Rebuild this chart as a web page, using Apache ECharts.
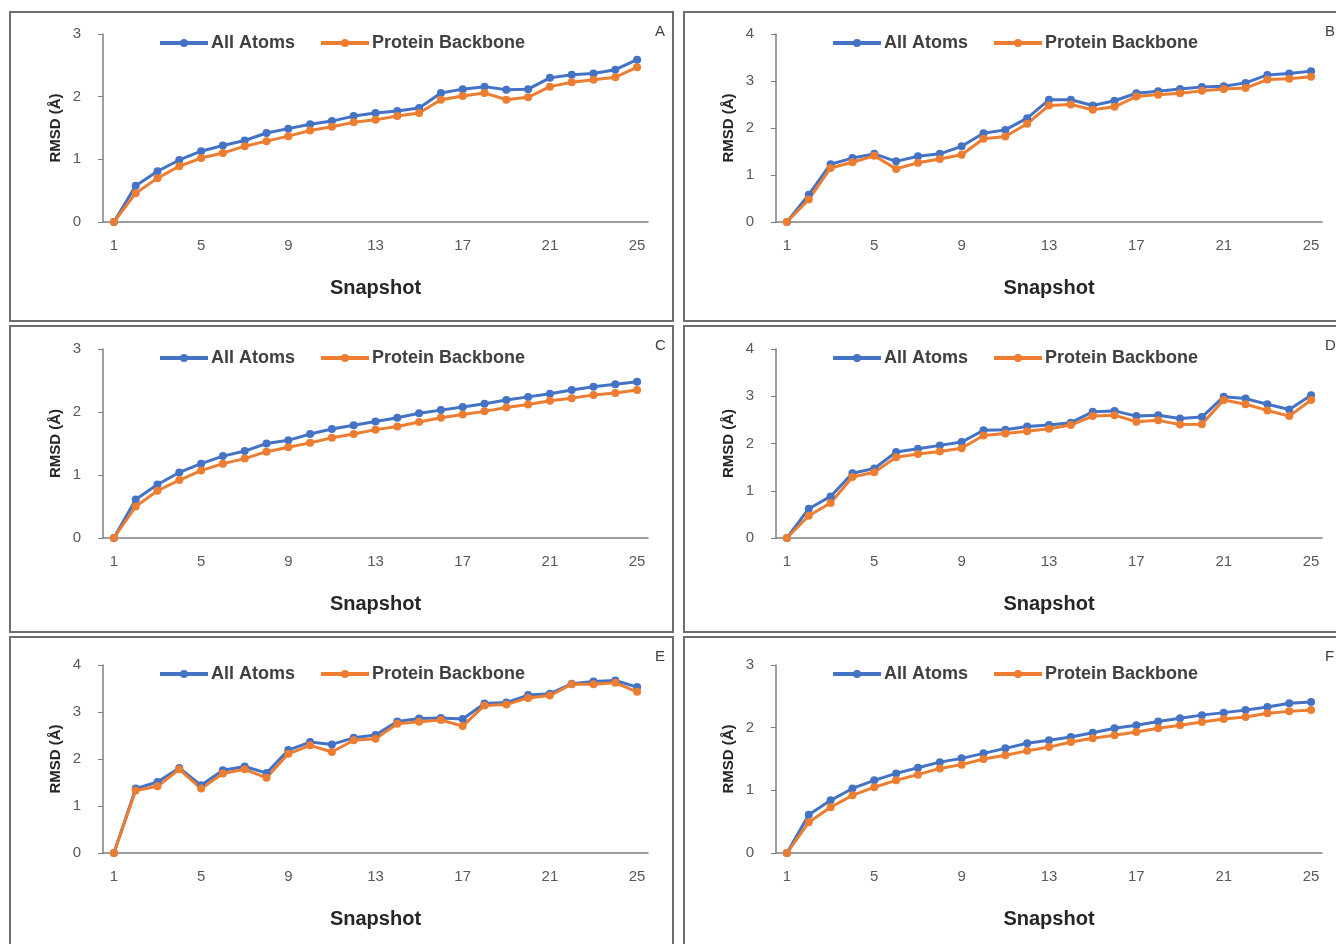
<!DOCTYPE html>
<html>
<head>
<meta charset="utf-8">
<script src="https://cdn.jsdelivr.net/npm/echarts@6/dist/echarts.min.js"></script>
<style>
  html, body { margin: 0; padding: 0; background: #fff; }
  #main { width: 1336px; height: 944px; }
</style>
</head>
<body>
<div id="main"></div>
<script>
// snapshots 1..25
var snapshots = [];
for (var i = 1; i <= 25; i++) snapshots.push(String(i));

var panelNames = ['A', 'B', 'C', 'D', 'E', 'F'];
var yMax = [3, 4, 3, 4, 4, 3];

var allA = [0, 0.58, 0.81, 0.99, 1.13, 1.22, 1.30, 1.42, 1.49, 1.56, 1.61, 1.69, 1.74, 1.77, 1.82, 2.06, 2.12, 2.16, 2.11, 2.12, 2.30, 2.35, 2.37, 2.43, 2.59];
var bbA  = [0, 0.46, 0.70, 0.89, 1.02, 1.10, 1.21, 1.29, 1.37, 1.46, 1.52, 1.59, 1.63, 1.69, 1.74, 1.95, 2.01, 2.06, 1.95, 1.99, 2.16, 2.23, 2.27, 2.31, 2.47];

var allB = [0, 0.58, 1.23, 1.36, 1.45, 1.29, 1.40, 1.45, 1.61, 1.89, 1.96, 2.21, 2.60, 2.60, 2.48, 2.58, 2.74, 2.78, 2.83, 2.87, 2.89, 2.96, 3.13, 3.16, 3.21];
var bbB  = [0, 0.48, 1.15, 1.27, 1.41, 1.13, 1.26, 1.34, 1.43, 1.77, 1.82, 2.09, 2.48, 2.50, 2.39, 2.45, 2.67, 2.71, 2.74, 2.79, 2.83, 2.85, 3.03, 3.05, 3.09];

var allC = [0, 0.61, 0.85, 1.04, 1.18, 1.30, 1.38, 1.50, 1.55, 1.65, 1.73, 1.79, 1.85, 1.91, 1.98, 2.03, 2.08, 2.13, 2.19, 2.24, 2.29, 2.35, 2.40, 2.44, 2.48];
var bbC  = [0, 0.50, 0.75, 0.92, 1.07, 1.18, 1.26, 1.37, 1.44, 1.51, 1.59, 1.65, 1.72, 1.77, 1.84, 1.91, 1.96, 2.01, 2.07, 2.12, 2.18, 2.22, 2.27, 2.30, 2.35];

var allD = [0, 0.62, 0.88, 1.37, 1.47, 1.82, 1.89, 1.96, 2.03, 2.28, 2.29, 2.36, 2.39, 2.44, 2.67, 2.69, 2.58, 2.60, 2.53, 2.56, 2.99, 2.95, 2.83, 2.72, 3.02];
var bbD  = [0, 0.47, 0.74, 1.29, 1.39, 1.71, 1.78, 1.83, 1.90, 2.17, 2.21, 2.26, 2.31, 2.39, 2.58, 2.60, 2.46, 2.49, 2.40, 2.41, 2.92, 2.83, 2.70, 2.58, 2.92];

var allE = [0, 1.37, 1.51, 1.81, 1.44, 1.76, 1.84, 1.70, 2.19, 2.36, 2.31, 2.45, 2.51, 2.80, 2.86, 2.87, 2.85, 3.18, 3.20, 3.36, 3.39, 3.60, 3.65, 3.67, 3.53];
var bbE  = [0, 1.33, 1.42, 1.78, 1.37, 1.69, 1.78, 1.60, 2.11, 2.29, 2.15, 2.40, 2.43, 2.75, 2.79, 2.83, 2.70, 3.14, 3.16, 3.30, 3.35, 3.59, 3.59, 3.62, 3.43];

var allF = [0, 0.61, 0.84, 1.03, 1.16, 1.27, 1.36, 1.45, 1.51, 1.59, 1.67, 1.75, 1.80, 1.85, 1.92, 1.99, 2.04, 2.10, 2.15, 2.20, 2.24, 2.28, 2.33, 2.39, 2.41];
var bbF  = [0, 0.49, 0.73, 0.92, 1.05, 1.16, 1.25, 1.35, 1.41, 1.50, 1.56, 1.63, 1.69, 1.77, 1.83, 1.88, 1.93, 1.99, 2.04, 2.09, 2.14, 2.17, 2.23, 2.26, 2.28];

var allData = [allA, allB, allC, allD, allE, allF];
var bbData = [bbA, bbB, bbC, bbD, bbE, bbF];

var BLUE = '#4472C4', ORANGE = '#ED7D31';
var FONT = '"Liberation Sans", Arial, sans-serif';

// panel frames and plot areas (page pixels)
var frames = [
  [10, 12, 663, 309], [684, 12, 670, 309],
  [10, 326, 663, 306], [684, 326, 670, 306],
  [10, 637, 663, 320], [684, 637, 670, 320]
];
var plots = [
  [103, 34, 545, 188], [776, 34, 546, 188],
  [103, 349, 545, 189], [776, 349, 546, 189],
  [103, 665, 545, 188], [776, 665, 546, 188]
];
var letterX = [650, 1320, 650, 1320, 650, 1320];

var chart = echarts.init(document.getElementById('main'));

var grids = [], xAxes = [], yAxes = [], series = [], legends = [], titles = [], graphics = [];

panelNames.forEach(function (p, k) {
  var f = frames[k], g = plots[k];
  graphics.push({
    type: 'rect', silent: true, z: -1,
    shape: { x: f[0], y: f[1], width: f[2], height: f[3] },
    style: { fill: 'none', stroke: '#6e6e6e', lineWidth: 2 }
  });
  grids.push({ left: g[0], top: g[1], width: g[2], height: g[3] });
  xAxes.push({
    type: 'category', gridIndex: k, data: snapshots, boundaryGap: true,
    name: 'Snapshot', nameLocation: 'middle', nameGap: 56,
    nameTextStyle: { fontFamily: FONT, fontSize: 20, fontWeight: 'bold', color: '#262626' },
    axisLine: { lineStyle: { color: '#7f7f7f', width: 1.5 } },
    axisTick: { show: false },
    axisLabel: { interval: 3, margin: 16, color: '#595959', fontFamily: FONT, fontSize: 15 },
    splitLine: { show: false }
  });
  yAxes.push({
    type: 'value', gridIndex: k, min: 0, max: yMax[k], interval: 1,
    name: 'RMSD (Å)', nameLocation: 'middle', nameGap: 40, nameRotate: 90,
    nameTextStyle: { fontFamily: FONT, fontSize: 15, fontWeight: 'bold', color: '#262626' },
    axisLine: { show: true, lineStyle: { color: '#7f7f7f', width: 1.5 } },
    axisTick: { show: true, length: 5, lineStyle: { color: '#7f7f7f' } },
    axisLabel: { margin: 22, color: '#595959', fontFamily: FONT, fontSize: 15 },
    splitLine: { show: false }
  });
  series.push({
    name: 'All Atoms', type: 'line', xAxisIndex: k, yAxisIndex: k,
    data: allData[k], symbol: 'circle', symbolSize: 8,
    lineStyle: { color: BLUE, width: 3 }, itemStyle: { color: BLUE }
  });
  series.push({
    name: 'Protein Backbone', type: 'line', xAxisIndex: k, yAxisIndex: k,
    data: bbData[k], symbol: 'circle', symbolSize: 8,
    lineStyle: { color: ORANGE, width: 3 }, itemStyle: { color: ORANGE }
  });
  legends.push({
    left: g[0] + 50, top: g[1] - 5, itemGap: 24, itemWidth: 48, itemHeight: 10,
    selectedMode: false,
    lineStyle: { width: 4 },
    textStyle: { fontFamily: FONT, fontSize: 18, fontWeight: 'bold', color: '#404040', padding: [0, 0, 0, -2] },
    data: ['All Atoms', 'Protein Backbone']
  });
  titles.push({
    text: p, left: letterX[k], top: f[1] + 7,
    textStyle: { fontFamily: FONT, fontSize: 15, fontWeight: 'normal', color: '#404040' }
  });
});

chart.setOption({
  animation: false,
  title: titles,
  legend: legends,
  grid: grids,
  xAxis: xAxes,
  yAxis: yAxes,
  series: series,
  graphic: graphics
});
</script>
</body>
</html>
